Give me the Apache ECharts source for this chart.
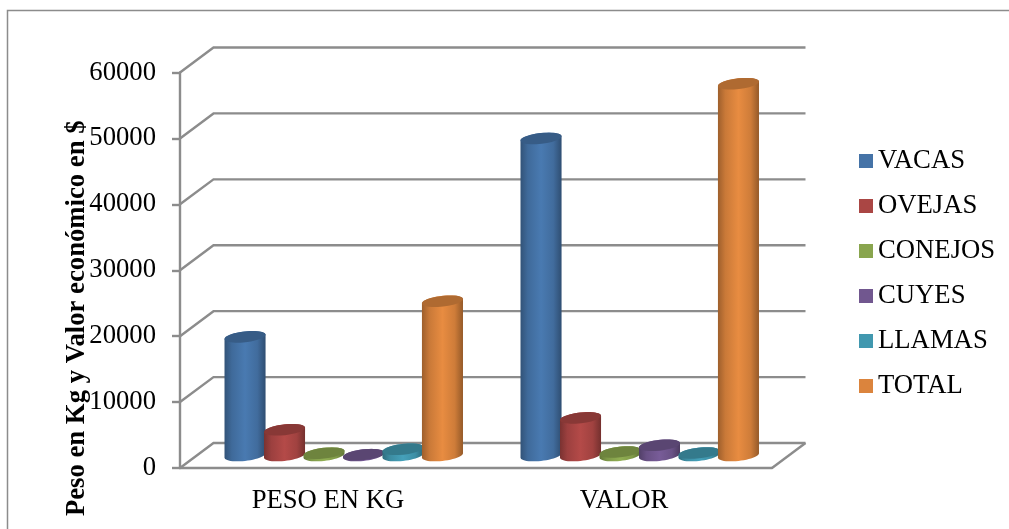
<!DOCTYPE html>
<html>
<head>
<meta charset="utf-8">
<style>html,body{margin:0;padding:0;background:#fff}#chart{width:1009px;height:529px}</style>
<script src="https://cdn.jsdelivr.net/npm/echarts@6/dist/echarts.min.js"></script>
</head>
<body>
<div id="chart"></div>
<script>
// Livestock weight and economic value by species
const categories = ['PESO EN KG', 'VALOR'];
const yTicks = [0, 10000, 20000, 30000, 40000, 50000, 60000];
const speciesNames = ['VACAS', 'OVEJAS', 'CONEJOS', 'CUYES', 'LLAMAS', 'TOTAL'];
const vacas = [18000, 48100];
const ovejas = [3900, 5700];
const conejos = [350, 530];
const cuyes = [120, 1550];
const llamas = [940, 380];
const total = [23400, 56400];
const speciesValues = [vacas, ovejas, conejos, cuyes, llamas, total];
const speciesColors = ['#4573a7', '#aa4644', '#89a54e', '#71578f', '#4198af', '#db843d'];
const yTitle = 'Peso en Kg y Valor económico en $';

const GRAY = '#8c8c8c';
const SERIF = '"Liberation Serif", "Times New Roman", serif';

// Pseudo-3D floor depth
const DEPTH_X = 33.5;
const DEPTH_Y = 25;
const STEP = 0.1334;     // cylinder spacing as a share of the category band
const WIDTH = 0.1395;    // cylinder width as a share of the category band
const RY = 5.4;
const TILT = -6.5 * Math.PI / 180;

function shade(hex, f) {
  const n = parseInt(hex.slice(1), 16);
  const c = [n >> 16, (n >> 8) & 255, n & 255].map(v => Math.min(255, Math.round(v * f)));
  return 'rgb(' + c.join(',') + ')';
}

function ellipsePoints(cx, cy, rx, from, to) {
  const pts = [];
  for (let i = 0; i <= 24; i++) {
    const t = from + (to - from) * i / 24;
    const u = rx * Math.cos(t), v = RY * Math.sin(t);
    pts.push([cx + u * Math.cos(TILT) - v * Math.sin(TILT), cy + u * Math.sin(TILT) + v * Math.cos(TILT)]);
  }
  return pts;
}

function cylinderRenderer(index, color) {
  return function (params, api) {
    const band = api.size([1, 0])[0];
    const top = api.coord([api.value(0), api.value(1)]);
    const base = api.coord([api.value(0), 0]);
    const cx = top[0] + (index - 2.5) * band * STEP + DEPTH_X / 2 - 1;
    const rx = band * WIDTH / 2;
    const yBase = base[1] - DEPTH_Y / 2;
    const yTop = top[1] - DEPTH_Y / 2;
    const t0 = Math.atan(-(RY / rx) * Math.tan(TILT));
    const body = ellipsePoints(cx, yBase, rx, t0, t0 + Math.PI)
      .concat(ellipsePoints(cx, yTop, rx, t0 + Math.PI, t0 + 2 * Math.PI));
    const side = new echarts.graphic.LinearGradient(0, 0, 1, 0, [
      { offset: 0, color: shade(color, 0.72) },
      { offset: 0.18, color: shade(color, 0.92) },
      { offset: 0.5, color: shade(color, 1.06) },
      { offset: 0.8, color: shade(color, 0.94) },
      { offset: 1, color: shade(color, 0.68) }
    ]);
    return {
      type: 'group',
      children: [
        { type: 'polygon', shape: { points: body }, style: { fill: side } },
        {
          type: 'polygon',
          shape: { points: ellipsePoints(cx, yTop, rx, 0, 2 * Math.PI) },
          style: { fill: shade(color, 0.8) }
        }
      ]
    };
  };
}

// Side wall, back wall and floor edge
function wallRenderer(params, api) {
  const sys = params.coordSys;
  const y = api.coord([0, api.value(0)])[1];
  const lineStyle = { stroke: GRAY, lineWidth: 2.4, fill: null };
  const children = [{
    type: 'polyline',
    shape: { points: [[sys.x, y], [sys.x + DEPTH_X, y - DEPTH_Y], [sys.x + sys.width + DEPTH_X, y - DEPTH_Y]] },
    style: lineStyle
  }];
  if (api.value(0) === 0) {
    children.push({
      type: 'line',
      shape: { x1: sys.x + sys.width, y1: y, x2: sys.x + sys.width + DEPTH_X, y2: y - DEPTH_Y },
      style: lineStyle
    });
  }
  return { type: 'group', children };
}

const series = [{
  name: 'paredes',
  type: 'custom',
  renderItem: wallRenderer,
  encode: { y: 0 },
  data: yTicks.map(v => [v]),
  silent: true,
  z: 1
}];
speciesNames.forEach((name, i) => {
  series.push({
    name,
    type: 'custom',
    renderItem: cylinderRenderer(i, speciesColors[i]),
    encode: { x: 0, y: 1 },
    itemStyle: { color: speciesColors[i] },
    data: categories.map((c, k) => [k, speciesValues[i][k]]),
    z: 2 + i
  });
});

const chart = echarts.init(document.getElementById('chart'), null, { renderer: 'canvas' });
chart.setOption({
  animation: false,
  backgroundColor: '#fff',
  textStyle: { fontFamily: SERIF },
  graphic: [{
    type: 'rect',
    silent: true,
    z: 0,
    shape: { x: 7.5, y: 10.5, width: 1100, height: 700 },
    style: { fill: null, stroke: GRAY, lineWidth: 1.5 }
  }],
  grid: { left: 180, top: 72.5, width: 592, height: 395.5 },
  xAxis: {
    type: 'category',
    data: categories,
    axisLine: { show: true, lineStyle: { color: GRAY, width: 2.4 } },
    axisTick: { show: false },
    splitLine: { show: false },
    axisLabel: { color: '#000', fontSize: 26.7, fontFamily: SERIF, margin: 19 }
  },
  yAxis: {
    type: 'value',
    min: 0,
    max: 60000,
    interval: 10000,
    name: yTitle,
    nameLocation: 'middle',
    nameRotate: 90,
    nameGap: 89,
    nameMoveOverlap: false,
    nameTextStyle: { color: '#000', fontSize: 26.7, fontWeight: 'bold', fontFamily: SERIF, padding: [0, 96, 0, 0] },
    axisLine: { show: true, lineStyle: { color: GRAY, width: 2.4 } },
    axisTick: { show: true, length: 8, lineStyle: { color: GRAY, width: 2.4 } },
    splitLine: { show: false },
    axisLabel: { color: '#000', fontSize: 26.7, fontFamily: SERIF, margin: 24, padding: [6, 0, 0, 0], formatter: v => String(v) }
  },
  legend: {
    data: speciesNames,
    orient: 'vertical',
    left: 854,
    top: 142.5,
    icon: 'rect',
    itemWidth: 14,
    itemHeight: 14,
    itemGap: 18,
    selectedMode: false,
    textStyle: { color: '#000', fontSize: 26.7, fontFamily: SERIF, lineHeight: 27, padding: [0, 0, 0, 0] }
  },
  series
});
</script>
</body>
</html>
